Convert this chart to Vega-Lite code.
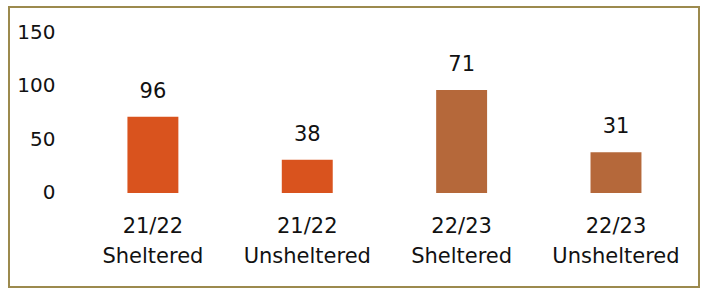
{
  "$schema": "https://vega.github.io/schema/vega-lite/v6.json",
  "width": 690,
  "height": 280,
  "padding": {"left": 9, "top": 7, "right": 2, "bottom": 4},
  "autosize": {"type": "none"},
  "background": "white",
  "config": {
    "view": {"stroke": "#9C8A4E", "strokeWidth": 2},
    "font": "DejaVu Sans"
  },
  "data": {
    "values": [
      {"cat": "21/22 Sheltered", "height": 71, "label": "96", "year": "21/22"},
      {"cat": "21/22 Unsheltered", "height": 31, "label": "38", "year": "21/22"},
      {"cat": "22/23 Sheltered", "height": 96, "label": "71", "year": "22/23"},
      {"cat": "22/23 Unsheltered", "height": 38, "label": "31", "year": "22/23"}
    ]
  },
  "encoding": {
    "x": {
      "field": "cat",
      "type": "nominal",
      "sort": null,
      "scale": {"paddingInner": 0.67, "paddingOuter": 0.57, "align": 0.673},
      "axis": {
        "title": null,
        "orient": "bottom",
        "offset": -94,
        "domain": false,
        "ticks": false,
        "labelAngle": 0,
        "labelExpr": "split(datum.value, ' ')",
        "labelFontSize": 21,
        "labelColor": "#111111",
        "labelLineHeight": 30,
        "labelBaseline": "top",
        "labelPadding": 22
      }
    },
    "y": {
      "field": "height",
      "type": "quantitative",
      "scale": {"domain": [-87.6, 173.3], "nice": false, "zero": false},
      "axis": {
        "title": null,
        "values": [0, 50, 100, 150],
        "offset": -46,
        "domain": false,
        "ticks": false,
        "grid": false,
        "labelPadding": 0,
        "labelFontSize": 20,
        "labelColor": "#111111"
      }
    }
  },
  "layer": [
    {
      "mark": {"type": "bar"},
      "encoding": {
        "y2": {"datum": 0},
        "color": {
          "field": "year",
          "type": "nominal",
          "scale": {"domain": ["21/22", "22/23"], "range": ["#D9531E", "#B5683A"]},
          "legend": null
        }
      }
    },
    {
      "mark": {"type": "text", "dy": -25, "baseline": "middle", "fontSize": 21, "color": "#111111"},
      "encoding": {"text": {"field": "label"}}
    }
  ]
}
